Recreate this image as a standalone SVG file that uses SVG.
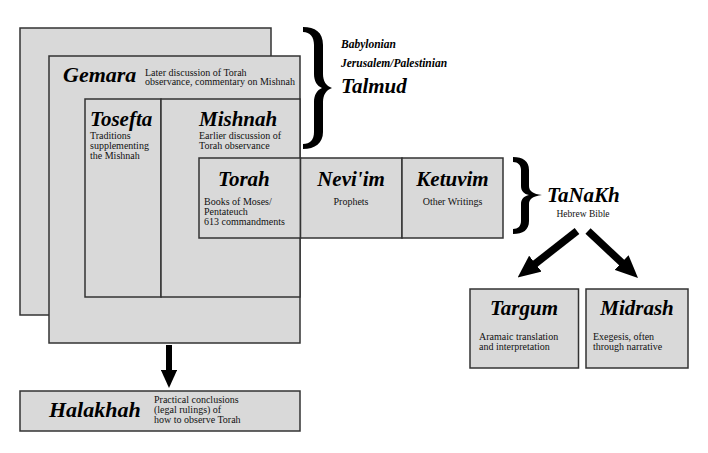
<svg xmlns="http://www.w3.org/2000/svg" width="708" height="453" viewBox="0 0 708 453">
<style>
.box{fill:#d9d9d9;stroke:#333;stroke-width:1.5}
.t{font-family:"Liberation Serif","Times New Roman",serif;font-style:italic;font-weight:bold;font-size:21px;fill:#000}
.s{font-family:"Liberation Serif","Times New Roman",serif;font-size:10px;fill:#111}
.sb{font-family:"Liberation Serif","Times New Roman",serif;font-style:italic;font-weight:bold;font-size:11.5px;fill:#000}
.arr{stroke:#000;fill:none;marker-end:url(#head)}
.brace{fill:#000}
</style>
<defs>
<marker id="head" viewBox="0 0 3 2.7" markerWidth="3" markerHeight="2.7" refX="0.4" refY="1.35" orient="auto" markerUnits="strokeWidth">
<path d="M0,0 L3,1.35 L0,2.7 Z" fill="#000"/>
</marker>
</defs>
<g id="talmud-back"><rect class="box" x="20" y="28" width="251" height="287"/></g>
<g id="gemara">
<rect class="box" x="49" y="56" width="251" height="287"/>
<text class="t" x="63" y="82" style="font-size:22px">Gemara</text>
<text class="s" x="145" y="75.5">Later discussion of Torah</text>
<text class="s" x="145" y="85">observance, commentary on Mishnah</text>
</g>
<g id="tosefta">
<rect class="box" x="85" y="99" width="76" height="198"/>
<text class="t" x="90" y="126">Tosefta</text>
<text class="s" x="90" y="139">Traditions</text>
<text class="s" x="90" y="149">supplementing</text>
<text class="s" x="90" y="159">the Mishnah</text>
</g>
<g id="mishnah">
<rect class="box" x="161" y="99" width="139" height="198"/>
<text class="t" x="199" y="126">Mishnah</text>
<text class="s" x="199" y="139">Earlier discussion of</text>
<text class="s" x="199" y="149">Torah observance</text>
</g>
<g id="torah">
<rect class="box" x="199" y="158" width="101.5" height="80"/>
<text class="t" x="218" y="186">Torah</text>
<text class="s" x="204" y="205">Books of Moses/</text>
<text class="s" x="204" y="215">Pentateuch</text>
<text class="s" x="204" y="225">613 commandments</text>
</g>
<g id="neviim">
<rect class="box" x="300.5" y="158" width="101.5" height="80"/>
<text class="t" x="351" y="186" text-anchor="middle">Nevi'im</text>
<text class="s" x="351" y="205" text-anchor="middle">Prophets</text>
</g>
<g id="ketuvim">
<rect class="box" x="402" y="158" width="101" height="80"/>
<text class="t" x="452.5" y="186" text-anchor="middle">Ketuvim</text>
<text class="s" x="452.5" y="205" text-anchor="middle">Other Writings</text>
</g>
<g id="talmud">
<path class="brace" d="M303,27 C315,27 323,32 323,45 L323,74 C323,81 326,86 332,88 C326,90 323,95 323,102 L323,132 C323,143 315,149 303,149 L303,144 C310,144 314,140 314,132 L314,102 C314,95 317,90 322,88 C317,86 314,81 314,74 L314,45 C314,37 310,32 303,32 Z"/>
<text class="sb" x="341" y="48">Babylonian</text>
<text class="sb" x="341" y="67">Jerusalem/Palestinian</text>
<text class="t" x="341" y="93">Talmud</text>
</g>
<g id="tanakh">
<path class="brace" d="M513,157 C523,157 529,161 529,170 L529,186 C529,191 533,194 542,195 C533,196 529,199 529,204 L529,221 C529,230 523,234 513,234 L513,229 C518,229 521,226 521,221 L521,204 C521,199 524,196 529,195 C524,194 521,191 521,186 L521,170 C521,165 518,162 513,162 Z"/>
<text class="t" x="547" y="202">TaNaKh</text>
<text class="s" x="583" y="216.5" text-anchor="middle" style="font-size:9.5px">Hebrew Bible</text>
</g>
<g id="targum">
<rect class="box" x="470" y="289" width="108.5" height="79"/>
<text class="t" x="524" y="315" text-anchor="middle">Targum</text>
<text class="s" x="479" y="340">Aramaic translation</text>
<text class="s" x="479" y="350">and interpretation</text>
</g>
<g id="midrash">
<rect class="box" x="586" y="289" width="102" height="79"/>
<text class="t" x="637" y="315" text-anchor="middle">Midrash</text>
<text class="s" x="593" y="340">Exegesis, often</text>
<text class="s" x="593" y="350">through narrative</text>
</g>
<g id="halakhah">
<rect class="box" x="20" y="391" width="280" height="40"/>
<text class="t" x="49" y="417" style="font-size:22px">Halakhah</text>
<text class="s" x="154" y="403">Practical conclusions</text>
<text class="s" x="154" y="413">(legal rulings) of</text>
<text class="s" x="154" y="423">how to observe Torah</text>
</g>
<g id="connectors">
<line class="arr" x1="169" y1="345" x2="169" y2="372.4" stroke-width="6"/>
<line class="arr" x1="577" y1="231" x2="533" y2="265.5" stroke-width="7.5"/>
<line class="arr" x1="588" y1="231" x2="623.8" y2="264.6" stroke-width="7.5"/>
</g>
</svg>
